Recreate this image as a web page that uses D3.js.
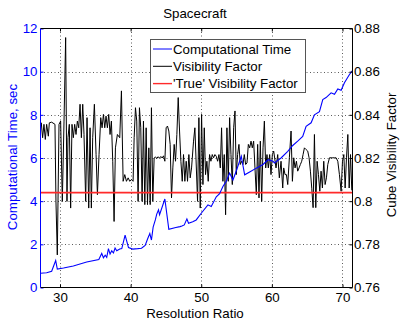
<!DOCTYPE html>
<html>
<head>
<meta charset="utf-8">
<script src="https://cdn.jsdelivr.net/npm/d3@7"></script>
<style>
  body { margin: 0; background: #fff; }
  svg text { font-family: "Liberation Sans", Arial, Helvetica, sans-serif; }
</style>
</head>
<body>
<div id="chart"></div>
<script>
// blue series: computational time (left axis, seconds)
const timeX = [27.24, 28.11, 28.82, 29.39, 29.62, 30.50, 31.89, 33.78, 35.50, 35.91, 36.15, 36.40, 36.62, 36.86,
  37.09, 37.33, 37.57, 37.80, 38.04, 38.46, 38.75, 39.22, 39.70, 40.30, 41.00, 41.54, 42.06, 42.40, 42.72, 42.95,
  43.19, 43.50, 43.70, 43.95, 44.10, 44.85, 45.41, 46.40, 47.00, 47.26, 47.60, 47.97, 48.20, 48.80, 49.29, 50.00,
  50.95, 51.42, 52.13, 52.60, 53.07, 53.55, 54.02, 54.49, 54.96, 55.67, 56.15, 56.86, 57.80, 58.75, 59.46, 60.17,
  60.36, 61.30, 62.25, 62.96, 63.66, 64.37, 64.85, 65.56, 66.03, 66.74, 67.21, 67.68, 68.39, 68.87, 69.34, 69.81,
  70.28, 70.99, 71.42];
const timeSec = [0.66, 0.68, 0.75, 1.25, 0.85, 0.90, 1.00, 1.18, 1.30, 1.58, 1.38, 1.50, 1.40, 1.80,
  1.55, 1.70, 1.60, 1.83, 1.70, 1.78, 1.80, 2.43, 1.85, 1.78, 1.80, 1.82, 1.95, 2.25, 2.50, 2.20,
  2.80, 3.13, 3.40, 3.60, 3.37, 4.10, 2.70, 2.78, 2.82, 2.85, 2.90, 3.18, 2.98, 3.05, 3.13, 3.44,
  3.83, 3.75, 4.20, 4.35, 4.68, 4.92, 5.30, 4.98, 5.40, 6.08, 5.22, 5.35, 5.53, 5.70, 5.92, 5.85,
  5.77, 6.00, 6.31, 6.58, 6.78, 7.00, 7.47, 7.63, 8.00, 8.15, 8.71, 8.80, 9.02, 8.95, 9.20, 9.14,
  9.49, 9.87, 10.05];

// black series: visibility factor (right axis)
const visX = [27.24, 27.35, 27.54, 27.73, 27.92, 28.11, 28.35, 28.49, 28.82, 29.29, 29.43, 29.62, 29.86, 30.09,
  30.33, 30.57, 30.80, 30.99, 31.13, 31.32, 31.51, 31.70, 31.89, 32.08, 32.27, 32.46, 32.65, 32.84, 33.03, 33.22,
  33.40, 33.64, 33.83, 34.07, 34.26, 34.44, 34.63, 34.87, 35.11, 35.30, 35.53, 35.77, 35.96, 36.15, 36.34, 36.52,
  36.71, 36.90, 37.09, 37.28, 37.47, 37.66, 37.85, 38.13,
  38.46, 38.70, 38.94, 39.17, 39.41, 39.65, 39.88, 40.12, 40.35, 40.50, 40.69, 40.87, 41.06, 41.25, 41.44, 41.63,
  41.82, 42.01, 42.20, 42.39, 42.58, 42.77, 42.95, 43.14, 43.33, 43.52, 43.71, 43.90, 44.09, 44.28, 44.47, 44.66,
  44.85, 45.03, 45.22, 45.41, 45.60, 45.79, 45.98, 46.17, 46.36, 46.55, 46.74, 46.93, 47.12, 47.31, 47.49, 47.68,
  47.87, 48.06, 48.25, 48.44, 48.63, 48.91, 49.10,
  49.48, 49.67, 49.86, 50.05, 50.24, 50.43, 50.61, 50.80, 50.99, 51.18, 51.37, 51.56, 51.75, 51.94, 52.13, 52.32,
  52.51, 52.70, 52.88, 53.07, 53.26, 53.45, 53.64, 53.83, 54.02, 54.21, 54.40, 54.59, 54.78, 54.96, 55.15, 55.34,
  55.53, 55.72, 55.91, 56.10, 56.29, 56.48, 56.67, 56.86, 57.05, 57.23, 57.42, 57.61, 57.80, 57.99, 58.18, 58.37,
  58.56, 58.75, 58.94, 59.13, 59.31, 59.50, 59.69, 59.88, 60.07, 60.26,
  60.59, 60.83, 61.06, 61.30, 61.54, 61.68, 61.87, 62.06, 62.25, 62.48, 62.72, 62.91, 63.10, 63.29, 63.48, 63.66,
  63.85, 64.04, 64.23, 64.42, 64.61, 64.85, 65.08, 65.27, 65.46, 65.65, 65.84, 66.03, 66.22, 66.41, 66.60, 66.79,
  66.97, 67.16, 67.35, 67.54, 67.73, 67.92, 68.16, 68.39, 68.63, 68.87, 69.10, 69.34, 69.57, 69.81, 70.00, 70.19,
  70.38, 70.57, 70.76, 70.95, 71.14, 71.32];
const visFactor = [0.8340, 0.8363, 0.8294, 0.8356, 0.8286, 0.8356, 0.8301, 0.8363, 0.8366, 0.8356, 0.7999, 0.7751, 0.8356, 0.8371,
  0.7999, 0.8371, 0.8758, 0.7999, 0.8294, 0.8356, 0.7968, 0.8356, 0.8294, 0.8356, 0.8309, 0.8371, 0.8340, 0.8449, 0.8294, 0.8449,
  0.8309, 0.7999, 0.8387, 0.7968, 0.8340, 0.7968, 0.8294, 0.8449, 0.8216, 0.8030, 0.8216, 0.8387, 0.8340, 0.8402, 0.8340, 0.8394,
  0.8340, 0.8402, 0.8309, 0.8371, 0.8185, 0.7906, 0.8247, 0.8309,
  0.8294, 0.8511, 0.8092, 0.8123, 0.8092, 0.8108, 0.8092, 0.8100, 0.8092, 0.8294, 0.8433, 0.8371, 0.7999, 0.8433, 0.8340, 0.7999,
  0.8371, 0.7984, 0.8340, 0.7984, 0.8247, 0.7984, 0.8433, 0.7999, 0.8200, 0.8205, 0.8198, 0.8206, 0.8199, 0.8207, 0.8200, 0.8210,
  0.8185, 0.8340, 0.8348, 0.8325, 0.8263, 0.8015, 0.8154, 0.8263, 0.8185, 0.8309, 0.8480, 0.8325, 0.8185, 0.8092, 0.8216, 0.8092,
  0.8185, 0.8092, 0.8216, 0.8108, 0.8154, 0.8278, 0.8340,
  0.7999, 0.8387, 0.7968, 0.8402, 0.8077, 0.8340, 0.8123, 0.8185, 0.8092, 0.8216, 0.8185, 0.8216, 0.8201, 0.8216, 0.8208, 0.8185,
  0.8216, 0.8154, 0.8340, 0.8092, 0.8216, 0.7937, 0.8340, 0.8092, 0.8387, 0.8216, 0.8077, 0.8340, 0.8418, 0.8123, 0.8216, 0.8263,
  0.8170, 0.8185, 0.8170, 0.8216, 0.8170, 0.8177, 0.8263, 0.8247, 0.8278, 0.8247, 0.8278, 0.8154, 0.8030, 0.8263, 0.8015, 0.8278,
  0.7999, 0.8247, 0.8371, 0.8154, 0.8216, 0.8154, 0.8216, 0.8123, 0.8216, 0.8232,
  0.8154, 0.8216, 0.8108, 0.8185, 0.8061, 0.8154, 0.8123, 0.8123, 0.8077, 0.8201, 0.8325, 0.8092, 0.8201, 0.8154, 0.8185, 0.8139,
  0.8154, 0.8170, 0.8185, 0.8216, 0.8247, 0.8239, 0.8232, 0.8201, 0.8139, 0.8060, 0.7970, 0.8309, 0.7970, 0.8185, 0.8123, 0.8046,
  0.8139, 0.8061, 0.8185, 0.8077, 0.8108, 0.8170, 0.8201, 0.8201, 0.8201, 0.8201, 0.8201, 0.8185, 0.8123, 0.8046, 0.8185, 0.8216,
  0.8061, 0.8201, 0.8309, 0.8061, 0.8216, 0.8050];

// reference level
const trueVisibility = 0.804;

// axes
const xDomain = [27.24, 71.42];
const xTicks = [30, 40, 50, 60, 70];
const leftTicks = [0, 2, 4, 6, 8, 10, 12];
const rightTicks = [0.76, 0.78, 0.80, 0.82, 0.84, 0.86, 0.88];
const rightTickLabels = ["0.76", "0.78", "0.8", "0.82", "0.84", "0.86", "0.88"];
const legendLabels = ["Computational Time", "Visibility Factor", "'True' Visibility Factor"];

const W = 400, H = 321;
const margin = { top: 28.5, right: 47.5, bottom: 33.5, left: 40.5 };
const x0 = margin.left, x1 = W - margin.right, y0 = margin.top, y1 = H - margin.bottom;
const FS = 13.3;
const BLUE = "#0000ff", RED = "#ff2a2a";

const svg = d3.select("#chart").append("svg")
  .attr("width", W).attr("height", H)
  .attr("viewBox", `0 0 ${W} ${H}`);

svg.append("rect").attr("width", W).attr("height", H).attr("fill", "#fff");

const x = d3.scaleLinear().domain(xDomain).range([x0, x1]);
const yL = d3.scaleLinear().domain([0, 12]).range([y1, y0]);
const yR = d3.scaleLinear().domain([0.76, 0.88]).range([y1, y0]);

// dotted grid
const grid = svg.append("g").attr("stroke", "#333").attr("stroke-width", 0.8)
  .attr("stroke-dasharray", "1,2.5").attr("fill", "none");
grid.selectAll(".gx").data(xTicks).join("line")
  .attr("x1", d => Math.round(x(d)) + 0.5).attr("x2", d => Math.round(x(d)) + 0.5)
  .attr("y1", y0).attr("y2", y1);
grid.selectAll(".gy").data(leftTicks.slice(1, -1)).join("line")
  .attr("x1", x0).attr("x2", x1)
  .attr("y1", d => Math.round(yL(d)) + 0.5).attr("y2", d => Math.round(yL(d)) + 0.5);

// series
const visLine = d3.line().x((d, i) => x(visX[i])).y(d => yR(d));
svg.append("path").datum(visFactor)
  .attr("fill", "none").attr("stroke", "#000").attr("stroke-width", 1)
  .attr("d", visLine);

svg.append("line")
  .attr("x1", x0).attr("x2", x1)
  .attr("y1", yR(trueVisibility)).attr("y2", yR(trueVisibility))
  .attr("stroke", RED).attr("stroke-width", 1.8);

const timeLine = d3.line().x((d, i) => x(timeX[i])).y(d => yL(d));
svg.append("path").datum(timeSec)
  .attr("fill", "none").attr("stroke", BLUE).attr("stroke-width", 1.1)
  .attr("d", timeLine);

// axes
function styleAxis(g, color) {
  g.select(".domain").remove();
  g.selectAll(".tick line").attr("stroke", color);
  g.selectAll(".tick text").attr("fill", color).attr("font-size", FS)
    .attr("font-family", "Liberation Sans, Arial, sans-serif");
}

svg.append("g").attr("transform", `translate(0,${y1})`)
  .call(d3.axisBottom(x).tickValues(xTicks).tickSize(-3).tickPadding(5.3).tickSizeOuter(0))
  .call(g => styleAxis(g, "#000"));
svg.append("g").attr("transform", `translate(0,${y0})`)
  .call(d3.axisTop(x).tickValues(xTicks).tickSize(-3).tickFormat("").tickSizeOuter(0))
  .call(g => styleAxis(g, "#000"));
svg.append("g").attr("transform", `translate(${x0},0)`)
  .call(d3.axisLeft(yL).tickValues(leftTicks).tickSize(-3).tickPadding(3).tickSizeOuter(0))
  .call(g => styleAxis(g, BLUE));
svg.append("g").attr("transform", `translate(${x1},0)`)
  .call(d3.axisRight(yR).tickValues(rightTicks).tickSize(-3).tickPadding(1.5).tickSizeOuter(0)
    .tickFormat((d, i) => rightTickLabels[i]))
  .call(g => styleAxis(g, "#000"));

// box
svg.append("path").attr("fill", "none").attr("stroke", "#000").attr("stroke-width", 1)
  .attr("d", `M${x0},${y0}H${x1}V${y1}H${x0}`);
svg.append("line").attr("x1", x0).attr("x2", x0).attr("y1", y0).attr("y2", y1)
  .attr("stroke", BLUE).attr("stroke-width", 1);

// labels
svg.append("text").attr("x", 195).attr("y", 17.5).attr("text-anchor", "middle")
  .attr("font-size", FS).text("Spacecraft");
svg.append("text").attr("x", 195).attr("y", 317.5).attr("text-anchor", "middle")
  .attr("font-size", FS).text("Resolution Ratio");
svg.append("text").attr("transform", "translate(17,157) rotate(-90)").attr("text-anchor", "middle")
  .attr("font-size", FS).attr("fill", BLUE).text("Computational Time, sec");
svg.append("text").attr("transform", "translate(396,155) rotate(-90)").attr("text-anchor", "middle")
  .attr("font-size", FS).text("Cube Visibility Factor");

// legend
const legendColors = [BLUE, "#000", RED];
const lg = svg.append("g").attr("transform", "translate(150.5,39.5)");
lg.append("rect").attr("width", 155).attr("height", 53)
  .attr("fill", "#fff").attr("stroke", "#555").attr("stroke-width", 1);
const rows = lg.selectAll(".row").data(legendLabels).join("g")
  .attr("transform", (d, i) => `translate(0,${9.5 + i * 17.3})`);
rows.append("line").attr("x1", 2.5).attr("x2", 21.5)
  .attr("stroke", (d, i) => legendColors[i]).attr("stroke-width", (d, i) => i === 2 ? 1.4 : 1);
rows.append("text").attr("x", 22.5).attr("y", 4.6).attr("font-size", FS).text(d => d);
</script>
</body>
</html>
